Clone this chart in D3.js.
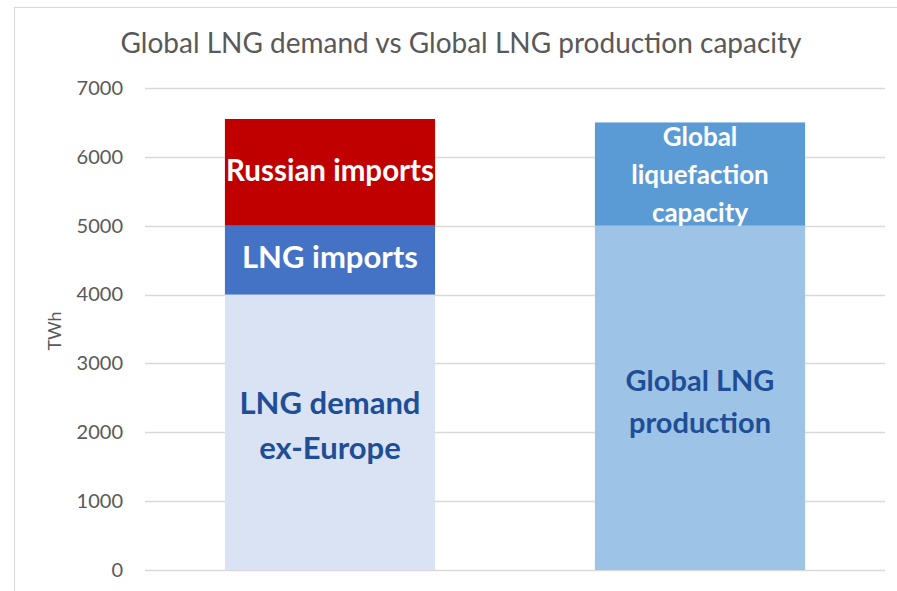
<!DOCTYPE html>
<html>
<head>
<meta charset="utf-8">
<script src="https://cdn.jsdelivr.net/npm/d3@7"></script>
<style>
  body { margin: 0; background: #fff; }
  svg { display: block; }
</style>
</head>
<body>
<div id="chart"></div>
<script>
/*=====================================================================
 data
======================================================================*/
var categories = ["demand", "production"];
var segmentNames = [
    ["LNG demand ex-Europe", "LNG imports", "Russian imports"],
    ["Global LNG production", "Global liquefaction capacity"]
];
var segmentValues = [
    [4000, 1000, 1550],
    [5000, 1500]
];
// label lines per segment (how the text wraps in the bar)
var segmentLabels = [
    [["LNG demand", "ex-Europe"], ["LNG imports"], ["Russian imports"]],
    [["Global LNG", "production"], ["Global", "liquefaction", "capacity"]]
];
var yTicks = [0, 1000, 2000, 3000, 4000, 5000, 6000, 7000];
var titleText = "Global LNG demand vs Global LNG production capacity";
var yTitle = "TWh";

/*=====================================================================
 styles
======================================================================*/
var width = 897, height = 591;
var segColors = [
    ["#dae3f3", "#4472c4", "#c00000"],
    ["#9dc3e6", "#5b9bd5"]
];
var segTextColors = [
    ["#1f4e96", "#ffffff", "#ffffff"],
    ["#1f4e96", "#ffffff"]
];
var segFont = [
    [31, 31, 29.5],
    [29, 26]
];
var segLineHeight = [
    [45, 45, 45],
    [42, 38]
];
var segOffset = [
    [-7, -3, -2],
    [4, 1]
];

var svg = d3.select("#chart").append("svg")
    .attr("width", width)
    .attr("height", height);

// chart frame
svg.append("rect")
    .attr("x", 14.5).attr("y", 7.5)
    .attr("width", width + 20).attr("height", height + 20)
    .attr("fill", "#fff")
    .attr("stroke", "#d9d9d9");

var x = d3.scaleBand()
    .domain(categories)
    .range([145, 885])
    .paddingInner(0.432)
    .paddingOuter(0.216);

var y = d3.scaleLinear()
    .domain([0, 7000])
    .range([570, 88]);

// gridlines
svg.append("g")
    .selectAll("line")
    .data(yTicks)
    .enter().append("line")
    .attr("x1", 145).attr("x2", 885)
    .attr("y1", function (d) { return Math.round(y(d)) + 0.5; })
    .attr("y2", function (d) { return Math.round(y(d)) + 0.5; })
    .attr("stroke", "#d9d9d9")
    .attr("stroke-width", 1.5);

// y axis labels
var yAxis = d3.axisLeft(y).tickValues(yTicks).tickFormat(d3.format("d"))
    .tickSize(0).tickPadding(0);
var ga = svg.append("g")
    .attr("transform", "translate(123,0)")
    .call(yAxis);
ga.select(".domain").remove();
ga.selectAll("text")
    .attr("font-family", "Lato, 'Open Sans', sans-serif")
    .attr("font-size", 20)
    .attr("fill", "#595959");

svg.append("text")
    .attr("transform", "translate(61,331) rotate(-90)")
    .attr("text-anchor", "middle")
    .attr("font-family", "Lato, sans-serif")
    .attr("font-size", 18)
    .attr("fill", "#595959")
    .text(yTitle);

// title
svg.append("text")
    .attr("x", 461).attr("y", 53)
    .attr("text-anchor", "middle")
    .attr("font-family", "Lato, sans-serif")
    .attr("font-size", 28)
    .attr("fill", "#595959")
    .text(titleText);

/*=====================================================================
 stacked bars
======================================================================*/
categories.forEach(function (cat, ci) {
    var base = 0;
    var g = svg.append("g");
    segmentValues[ci].forEach(function (v, si) {
        var y0 = y(base), y1 = y(base + v);
        g.append("rect")
            .attr("x", x(cat))
            .attr("y", y1)
            .attr("width", x.bandwidth())
            .attr("height", y0 - y1)
            .attr("fill", segColors[ci][si])
            .append("title").text(segmentNames[ci][si] + ": " + v);

        var lines = segmentLabels[ci][si];
        var lh = segLineHeight[ci][si];
        var cy = (y0 + y1) / 2 + segOffset[ci][si];
        var t = g.append("text")
            .attr("text-anchor", "middle")
            .attr("font-family", "Lato, sans-serif")
            .attr("font-weight", "bold")
            .attr("font-size", segFont[ci][si])
            .attr("fill", segTextColors[ci][si]);
        lines.forEach(function (line, li) {
            t.append("tspan")
                .attr("x", x(cat) + x.bandwidth() / 2)
                .attr("y", cy + (li - (lines.length - 1) / 2) * lh)
                .attr("dy", "0.35em")
                .text(line);
        });
        base += v;
    });
});
</script>
</body>
</html>
